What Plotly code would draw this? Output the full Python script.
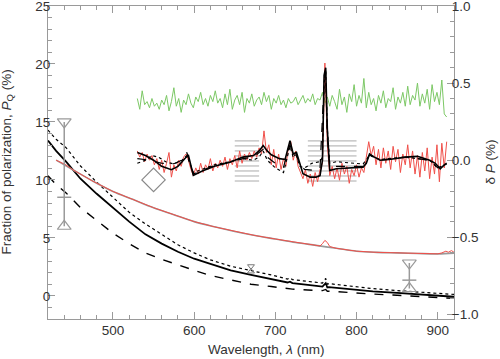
import plotly.graph_objects as go

# ---------------- data ----------------
# Fraction of polarization P_Q (%) model curves (left axis)
lam_model = [420, 430, 442, 460, 480, 500, 520, 540, 560, 580, 600, 620, 645, 670, 695,
             715, 718, 721, 740, 758, 762, 764, 766, 792, 820, 850, 880, 900, 920]
pq_solid = [13.4, 12.5, 11.6, 10.1, 8.8, 7.6, 6.4, 5.3, 4.5, 3.8, 3.2, 2.75, 2.2, 1.8, 1.45,
            1.15, 1.22, 1.1, 0.95, 0.8, 1.1, 0.72, 0.75, 0.55, 0.38, 0.25, 0.13, 0.06, -0.08]
pq_dotted = [14.3, 13.5, 12.8, 11.2, 9.8, 8.5, 7.2, 6.2, 5.3, 4.4, 3.7, 3.1, 2.55, 2.2, 1.8,
             1.45, 1.55, 1.4, 1.25, 1.1, 1.5, 1.0, 1.05, 0.83, 0.62, 0.45, 0.33, 0.26, 0.12]
pq_dashed = [10.35, 9.6, 8.9, 7.6, 6.5, 5.4, 4.5, 3.7, 3.15, 2.65, 2.2, 1.75, 1.35, 1.0, 0.8,
             0.62, 0.6, 0.58, 0.5, 0.45, 0.55, 0.4, 0.4, 0.26, 0.15, 0.05, -0.06, -0.14, -0.22]

# observed P_Q (red) and its smooth fit (grey)
lam_obs = [430, 442, 450, 475, 500, 525, 550, 575, 600, 625, 650, 675, 700, 725, 750, 755,
           758, 761, 764, 767, 775, 800, 825, 850, 875, 890, 900, 905, 910, 913, 917, 920]
pq_obs = [11.7, 11.3, 10.9, 9.9, 9.0, 8.3, 7.6, 7.0, 6.4, 5.95, 5.55, 5.2, 4.9, 4.6, 4.35, 4.3,
          4.5, 4.78, 4.6, 4.25, 4.1, 3.85, 3.75, 3.7, 3.65, 3.6, 3.62, 3.7, 3.85, 3.76, 3.9, 3.75]
lam_fit = [430, 450, 475, 500, 525, 550, 575, 600, 625, 650, 675, 700, 725, 750, 775, 800,
           825, 850, 875, 900, 920]
pq_fit = [11.7, 10.9, 9.9, 9.0, 8.3, 7.6, 7.0, 6.4, 5.95, 5.55, 5.2, 4.9, 4.6, 4.35, 4.1, 3.85,
          3.75, 3.7, 3.65, 3.62, 3.68]

# delta P (%) model curves (right axis)
lam_dp_solid = [530, 540, 550, 560, 572, 580, 590, 593, 599, 610, 625, 644, 660, 673, 680, 685,
                690, 695, 705, 712, 718, 722, 726, 730, 734, 743, 750, 755, 758, 760, 762, 764,
                767, 775, 792, 808, 812, 816, 822, 829, 840, 860, 875, 890, 897, 903, 908, 911]
dp_solid = [0.05, 0.03, 0.0, -0.04, -0.062, -0.04, 0.019, 0.03, -0.099, -0.07, -0.04, -0.013,
            0.02, 0.03, 0.06, 0.095, 0.06, 0.035, 0.01, 0.005, 0.127, 0.04, 0.05, -0.02, -0.088,
            -0.11, -0.11, -0.1, 0.0, 0.55, 0.6, 0.2, -0.067, -0.056, -0.05, -0.045, -0.02, 0.04,
            0.02, 0.0, 0.005, 0.02, 0.025, 0.0, -0.02, -0.056, -0.03, -0.02]
lam_dp_dotted = [530, 540, 548, 556, 565, 575, 585, 591, 599, 610, 625, 644, 660, 673, 680, 685,
                 690, 700, 710, 718, 722, 726, 730, 736, 745, 755, 758, 760, 762, 764, 767, 775,
                 792, 808, 816, 829, 860, 890, 900, 911]
dp_dotted = [-0.02, 0.0, 0.03, 0.02, -0.01, -0.025, 0.0, 0.03, -0.08, -0.06, -0.03, -0.01, 0.01,
             0.0, 0.02, 0.06, 0.0, -0.05, -0.08, 0.09, 0.02, 0.03, -0.04, -0.05, -0.02, -0.01,
             0.02, 0.5, 0.58, 0.2, -0.02, -0.01, -0.02, -0.025, 0.03, 0.005, 0.02, 0.0, -0.05,
             -0.025]
lam_dp_dashed = [530, 545, 560, 575, 585, 591, 599, 610, 625, 644, 660, 673, 685, 690, 700, 710,
                 718, 722, 726, 730, 736, 745, 755, 760, 762, 764, 767, 775, 792, 808, 816, 829,
                 860, 890, 900, 911]
dp_dashed = [0.01, 0.0, -0.02, -0.023, 0.0, 0.05, -0.09, -0.065, -0.035, -0.012, 0.01, 0.02,
             0.07, 0.02, -0.02, -0.045, 0.1, 0.03, 0.035, -0.03, -0.06, -0.065, -0.055, 0.5, 0.57,
             0.15, -0.05, -0.04, -0.04, -0.04, 0.035, 0.0, 0.02, 0.0, -0.05, -0.03]

# observed delta P (red, noisy) and the offset comparison spectrum (green), 3 nm sampling from 530 nm
dp_obs = [0.06, 0.02, 0.05, -0.01, 0.04, 0.0, 0.03, -0.03, 0.01, -0.06, 0.0, -0.08, -0.02, 0.05,
          -0.11, -0.03, -0.07, 0.0, -0.04, 0.02, 0.04, 0.0, -0.06, -0.1, -0.05, -0.09, -0.02,
          -0.08, -0.03, -0.06, 0.01, -0.07, -0.02, -0.05, 0.0, -0.04, 0.02, -0.06, 0.01, -0.03,
          0.03, -0.05, 0.06, -0.02, 0.04, 0.0, 0.05, 0.01, 0.06, 0.02, 0.08, 0.04, 0.19, 0.05,
          0.1, -0.03, 0.07, -0.05, 0.04, -0.06, 0.01, -0.04, 0.08, 0.12, 0.0, 0.06, -0.04, -0.08,
          -0.12, -0.06, -0.15, -0.09, -0.17, -0.08, -0.14, -0.06, -0.02, 0.63, 0.1, -0.1, -0.04,
          -0.12, -0.05, -0.13, -0.02, -0.09, -0.04, -0.15, -0.06, -0.1, -0.03, -0.11, -0.05,
          -0.08, 0.02, 0.12, 0.03, 0.09, -0.03, 0.07, -0.05, 0.08, -0.02, 0.06, -0.06, 0.09,
          -0.01, 0.07, -0.08, 0.04, -0.03, 0.1, -0.05, 0.06, -0.09, 0.03, -0.11, 0.05, -0.07,
          0.08, -0.12, 0.02, -0.09, 0.1, -0.14, 0.11, -0.05, 0.12]
dp_green = [0.40, 0.33, 0.45, 0.36, 0.38, 0.34, 0.40, 0.35, 0.37, 0.33, 0.39, 0.36, 0.42, 0.32,
            0.38, 0.47, 0.35, 0.40, 0.31, 0.39, 0.36, 0.43, 0.37, 0.34, 0.41, 0.38, 0.44, 0.36,
            0.40, 0.35, 0.42, 0.38, 0.45, 0.37, 0.40, 0.34, 0.43, 0.36, 0.46, 0.33, 0.39, 0.42,
            0.36, 0.44, 0.31, 0.40, 0.37, 0.43, 0.35, 0.39, 0.41, 0.36, 0.44, 0.38, 0.42, 0.33,
            0.40, 0.37, 0.42, 0.36, 0.39, 0.34, 0.40, 0.37, 0.38, 0.41, 0.36, 0.39, 0.42, 0.37,
            0.40, 0.38, 0.43, 0.36, 0.40, 0.39, 0.44, 0.37, 0.41, 0.35, 0.42, 0.38, 0.33, 0.46,
            0.36, 0.41, 0.31, 0.43, 0.38, 0.49, 0.35, 0.42, 0.37, 0.53, 0.34, 0.44, 0.36, 0.40,
            0.32, 0.42, 0.37, 0.45, 0.34, 0.40, 0.38, 0.47, 0.33, 0.41, 0.37, 0.44, 0.35, 0.48,
            0.36, 0.42, 0.39, 0.50, 0.35, 0.43, 0.37, 0.46, 0.33, 0.49, 0.38, 0.44, 0.36, 0.52,
            0.30, 0.28]
lam_obs_dp = [530 + 3 * i for i in range(len(dp_obs))]
lam_green = [530 + 3 * i for i in range(len(dp_green))]

# telluric band hatching (delta P levels) and band limits (nm)
hatch_levels = [0.125, 0.0925, 0.06, 0.0275, -0.005, -0.0375, -0.07, -0.1025, -0.135]
hatch_bands = [(650, 680), (740, 800)]

# error-bar style symbols: (wavelength, top, bottom, middle)
range_marks = [(440, 15.0, 6.0, 8.5), (865, 2.83, 0.63, 1.35)]
small_mark = (670, 2.55, 2.1)
diamond = (550, 10.0)

# ---------------- figure ----------------
GREY = "#9a9a9a"
TXT = "#333333"
RED = "#f0504a"
fig = go.Figure()

# hatching
for a, b in hatch_bands:
    for lv in hatch_levels:
        fig.add_trace(go.Scatter(x=[a, b], y=[lv, lv], yaxis="y2", mode="lines",
                                 line=dict(color="#aaaaaa", width=1), hoverinfo="skip"))

fig.add_trace(go.Scatter(x=lam_green, y=dp_green, yaxis="y2", mode="lines",
                         line=dict(color="#7cc865", width=1)))
fig.add_trace(go.Scatter(x=lam_obs_dp, y=dp_obs, yaxis="y2", mode="lines",
                         line=dict(color=RED, width=1)))
fig.add_trace(go.Scatter(x=lam_dp_dotted, y=dp_dotted, yaxis="y2", mode="lines",
                         line=dict(color="black", width=1.2, dash="dot")))
fig.add_trace(go.Scatter(x=lam_dp_dashed, y=dp_dashed, yaxis="y2", mode="lines",
                         line=dict(color="black", width=1.2, dash="dash")))
fig.add_trace(go.Scatter(x=lam_dp_solid, y=dp_solid, yaxis="y2", mode="lines",
                         line=dict(color="black", width=1.6)))

# P_Q curves
fig.add_trace(go.Scatter(x=lam_model, y=pq_dotted, mode="lines",
                         line=dict(color="black", width=1.2, dash="dot")))
fig.add_trace(go.Scatter(x=lam_model, y=pq_dashed, mode="lines",
                         line=dict(color="black", width=1.4, dash="dash")))
fig.add_trace(go.Scatter(x=lam_model, y=pq_solid, mode="lines",
                         line=dict(color="black", width=1.8)))
fig.add_trace(go.Scatter(x=lam_fit, y=pq_fit, mode="lines",
                         line=dict(color=GREY, width=1.6, shape="spline")))
fig.add_trace(go.Scatter(x=lam_obs, y=pq_obs, mode="lines",
                         line=dict(color=RED, width=1)))

# range symbols
for lam, top, bot, mid in range_marks:
    fig.add_trace(go.Scatter(x=[lam, lam], y=[top, bot], mode="lines",
                             line=dict(color=GREY, width=1.5)))
    fig.add_trace(go.Scatter(x=[lam, lam], y=[top, bot], mode="markers",
                             marker=dict(symbol=["triangle-down-open", "triangle-up-open"],
                                         size=12, color=GREY, line=dict(width=1.2, color=GREY))))
    fig.add_trace(go.Scatter(x=[lam], y=[mid], mode="markers",
                             marker=dict(symbol="line-ew-open", size=10, color=GREY,
                                         line=dict(width=1.5, color=GREY))))
fig.add_trace(go.Scatter(x=[small_mark[0]] * 2, y=[small_mark[1], small_mark[2]], mode="markers",
                         marker=dict(symbol=["triangle-down-open", "triangle-up-open"], size=6,
                                     color="#777777", line=dict(width=1, color="#777777"))))
fig.add_trace(go.Scatter(x=[diamond[0]], y=[diamond[1]], mode="markers",
                         marker=dict(symbol="diamond-open", size=18, color="#888888",
                                     line=dict(width=1.2, color="#888888"))))

FONT = "Liberation Sans, Arial, sans-serif"
axis_common = dict(showline=True, linecolor=GREY, linewidth=1.2, ticks="inside",
                   tickcolor=GREY, tickwidth=1, ticklen=7, showgrid=False, zeroline=False,
                   automargin=False, ticklabeloverflow="allow",
                   tickfont=dict(family=FONT, size=13.5, color=TXT))

fig.update_layout(
    template="none",
    width=500, height=359,
    margin=dict(l=48, r=46, t=6, b=40),
    plot_bgcolor="white", paper_bgcolor="white",
    showlegend=False, hovermode=False,
    font=dict(family=FONT, size=13.5, color=TXT),
    xaxis=dict(range=[420, 920], tickvals=[500, 600, 700, 800, 900], mirror="ticks",
               ticklabelstandoff=-1,
               minor=dict(dtick=20, tick0=500, ticks="inside", ticklen=4, tickcolor=GREY),
               **axis_common),
    yaxis=dict(range=[-2, 25], tickvals=[0, 5, 10, 15, 20, 25], ticklabelstandoff=-6,
               minor=dict(dtick=1, tick0=0, ticks="inside", ticklen=4, tickcolor=GREY),
               **axis_common),
    yaxis2=dict(range=[-1.03, 1.0], overlaying="y", side="right", ticklabelstandoff=-6,
                tickvals=[-1, -0.5, 0, 0.5, 1.0],
                ticktext=["\u22121.0", "\u22120.5", "0.0", "0.5", "1.0"],
                minor=dict(dtick=0.1, tick0=0, ticks="inside", ticklen=4, tickcolor=GREY),
                **axis_common),
)

fig.add_annotation(text="Wavelength, <i>λ</i> (nm)", xref="paper", yref="paper",
                   x=0.536, y=-0.0987, xanchor="center", yanchor="middle", showarrow=False,
                   font=dict(family=FONT, size=13.5, color=TXT))
fig.add_annotation(text="Fraction of polarization, <i>P</i><sub>Q</sub> (%)", xref="paper",
                   yref="paper", x=0, xshift=-41, y=0.5, xanchor="center", yanchor="middle",
                   textangle=-90, showarrow=False, font=dict(family=FONT, size=13.5, color=TXT))
fig.add_annotation(text="δ <i>P</i> (%)", xref="paper", yref="paper", x=1, xshift=36, y=0.5,
                   xanchor="center", yanchor="middle", textangle=-90, showarrow=False,
                   font=dict(family=FONT, size=13.5, color=TXT))

fig.write_html("out.html", config={"displayModeBar": False},
               post_script="document.body.style.margin='0';")
